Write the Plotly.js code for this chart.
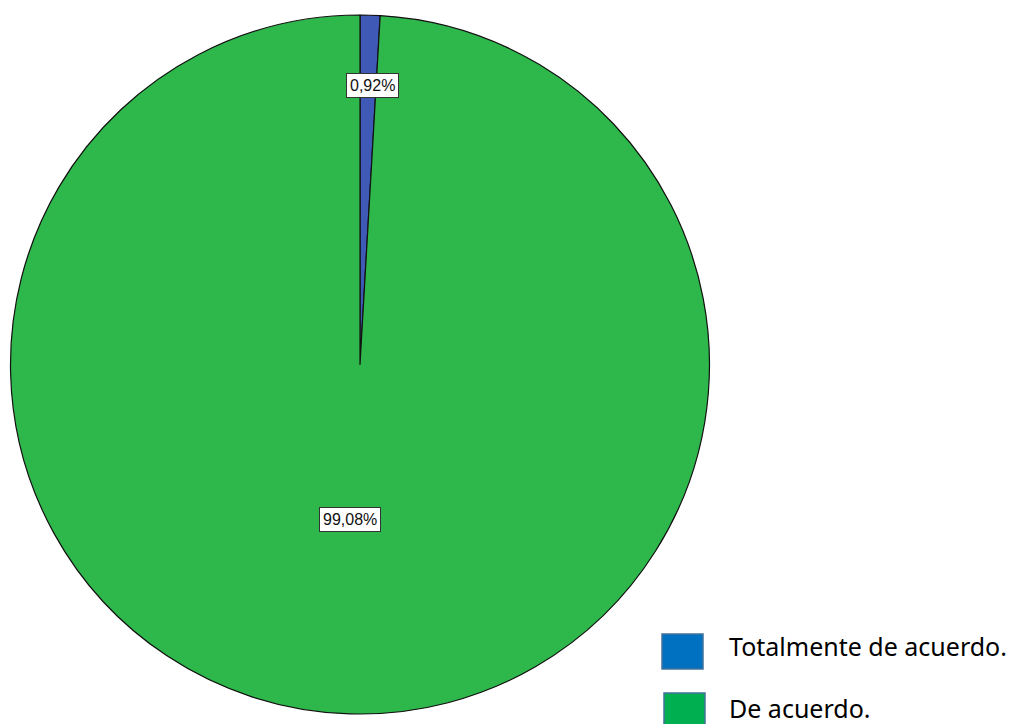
<!DOCTYPE html>
<html><head><meta charset="utf-8">
<script src="https://cdn.plot.ly/plotly-3.0.1.min.js"></script>
<style>html,body{margin:0;padding:0;background:#fff}#chart{width:1014px;height:724px}</style>
</head><body><div id="chart"></div>
<script>
const categories = ["Totalmente de acuerdo.", "De acuerdo."];
const values = [0.92, 99.08];
const valueLabels = ["0,92%", "99,08%"];
const sliceColors = ["#3F5AB6", "#2EB84B"];
const legendColors = ["#0070C0", "#00B050"];

const W = 1014, H = 724;
const cx = 360, cy = 364.5, R = 349.5;
const labelRadius = [0.80, 0.445];
const labelXShift = [4, -6];

const data = [{
  type: "pie",
  labels: categories,
  values: values,
  sort: false,
  direction: "clockwise",
  rotation: 0,
  textinfo: "none",
  hoverinfo: "label+percent",
  marker: {colors: sliceColors, line: {color: "#111111", width: 1.2}},
  domain: {x: [(cx - R) / W, (cx + R) / W], y: [1 - (cy + R) / H, 1 - (cy - R) / H]},
  showlegend: false
}];

const total = values.reduce((a, b) => a + b, 0);
const annotations = [];
let cum = 0;
values.forEach((v, i) => {
  const mid = (cum + v / 2) / total * 2 * Math.PI;
  cum += v;
  const r = R * labelRadius[i];
  annotations.push({
    xref: "paper", yref: "paper",
    x: (cx + r * Math.sin(mid)) / W,
    y: 1 - (cy - r * Math.cos(mid)) / H,
    xshift: labelXShift[i],
    text: valueLabels[i], showarrow: false,
    font: {family: "Liberation Sans, Arial, sans-serif", size: 16, color: "#111"},
    bgcolor: "#ffffff", bordercolor: "#333", borderwidth: 1, borderpad: 3,
    xanchor: "center", yanchor: "middle"
  });
});

const shapes = [];
const legSquares = [[662, 634], [664, 693]];
const legTextY = [646, 708];
categories.forEach((c, i) => {
  const [sx, sy] = legSquares[i];
  shapes.push({type: "rect", xref: "paper", yref: "paper",
    x0: sx / W, x1: (sx + 41) / W, y0: 1 - sy / H, y1: 1 - (sy + 35) / H,
    fillcolor: legendColors[i], line: {color: "#41719C", width: 1.5}});
  annotations.push({xref: "paper", yref: "paper", x: 727 / W, y: 1 - legTextY[i] / H,
    text: c, showarrow: false, xanchor: "left", yanchor: "middle",
    font: {family: "Noto Sans, sans-serif", size: 25, color: "#000"}});
});

const layout = {
  width: W, height: H,
  margin: {l: 0, r: 0, t: 0, b: 0},
  paper_bgcolor: "#ffffff",
  showlegend: false,
  annotations: annotations,
  shapes: shapes
};
Plotly.newPlot("chart", data, layout, {displayModeBar: false, staticPlot: true});
</script></body></html>
